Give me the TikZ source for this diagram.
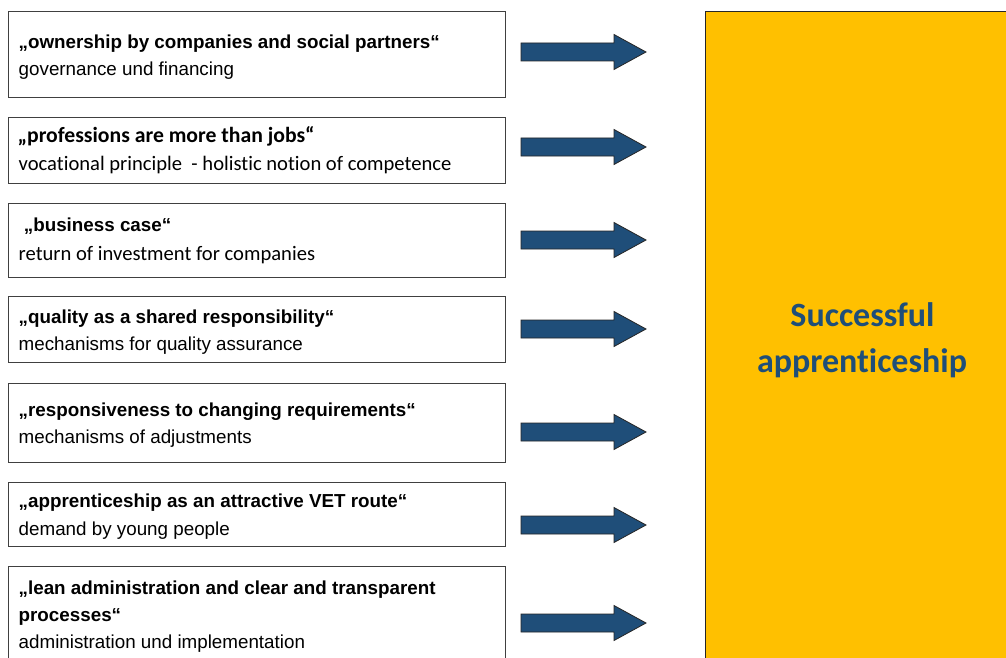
\documentclass[tikz,border=0pt]{standalone}
\usepackage{fontspec}
\setmainfont{Liberation Sans}
\newfontfamily\calibri[Ligatures=NoCommon]{Carlito}
\definecolor{navy}{HTML}{1F4E79}
\definecolor{gold}{HTML}{FFC000}
\newcommand{\blockarr}[2]{%
  \coordinate (#1) at (521,#2);
  \path[blockarrow] (521,{#2-9}) -- (614,{#2-9}) -- (614,{#2-17.5}) -- (646,#2)
     -- (614,{#2+17.5}) -- (614,{#2+9}) -- (521,{#2+9}) -- cycle;}
\begin{document}
\begin{tikzpicture}[x=1pt,y=-1pt,
  box/.style={draw=black!75, line width=1.4pt, fill=white, inner sep=0pt,
    anchor=north west, minimum width=497pt},
  ttl/.style={anchor=base west, inner sep=0pt, font=\fontsize{18.8}{22}\selectfont\bfseries},
  sub/.style={anchor=base west, inner sep=0pt, font=\fontsize{18.8}{22}\selectfont},
  cttl/.style={anchor=base west, inner sep=0pt, font=\calibri\fontsize{21.7}{24}\selectfont\bfseries},
  csub/.style={anchor=base west, inner sep=0pt, font=\calibri\fontsize{20.6}{24}\selectfont},
  goalfont/.style={anchor=base, inner sep=0pt, text=navy,
    font=\calibri\fontsize{34}{40}\selectfont\bfseries},
  blockarrow/.style={fill=navy, draw=black!85, line width=0.8pt, line join=miter},
]
\useasboundingbox (0,0) rectangle (1006,658);
\clip (0,0) rectangle (1006,658);
\fill[white] (0,0) rectangle (1006,658);

% boxes
\node[box, minimum height=86pt] (b1) at (8,11) {};
\node[box, minimum height=66pt] (b2) at (8,117) {};
\node[box, minimum height=74pt] (b3) at (8,203) {};
\node[box, minimum height=66pt] (b4) at (8,296) {};
\node[box, minimum height=79pt] (b5) at (8,383) {};
\node[box, minimum height=64pt] (b6) at (8,482) {};
\node[box, minimum height=120pt] (b7) at (8,566) {};

% texts
\node[ttl] (t1a) at (18.5,48.5) {„ownership by companies and social partners“};
\node[sub] (t1b) at (18.5,75.5) {governance und financing};
\node[cttl] (t2a) at (17.5,142.5) {„professions are more than jobs“};
\node[csub] (t2b) at (18.5,170.5) {vocational principle\ \ - holistic notion of competence};
\node[ttl] (t3a) at (18.5,231.5) {\ „business case“};
\node[csub] (t3b) at (18.5,260) {return of investment for companies};
\node[ttl] (t4a) at (18.5,323.5) {„quality as a shared responsibility“};
\node[sub] (t4b) at (18.5,350) {mechanisms for quality assurance};
\node[ttl] (t5a) at (18.5,416.5) {„responsiveness to changing requirements“};
\node[sub] (t5b) at (18.5,443.5) {mechanisms of adjustments};
\node[ttl] (t6a) at (18.5,507.5) {„apprenticeship as an attractive VET route“};
\node[sub] (t6b) at (18.5,535) {demand by young people};
\node[ttl] (t7a) at (18.5,594.5) {„lean administration and clear and transparent};
\node[ttl] (t7b) at (18.5,621.5) {processes“};
\node[sub] (t7c) at (18.5,648.5) {administration und implementation};

% target
\node[fill=gold, draw=black!85, line width=1.4pt, anchor=north west, inner sep=0pt,
  minimum width=330pt, minimum height=680pt] (goal) at (705,11) {};
\node[goalfont] (goal1) at (862.5,326.5) {Successful};
\node[goalfont] (goal2) at (862,372) {apprenticeship};

% arrows
\blockarr{a1}{52}
\blockarr{a2}{147}
\blockarr{a3}{240}
\blockarr{a4}{329}
\blockarr{a5}{432}
\blockarr{a6}{525}
\blockarr{a7}{623}
\end{tikzpicture}
\end{document}
